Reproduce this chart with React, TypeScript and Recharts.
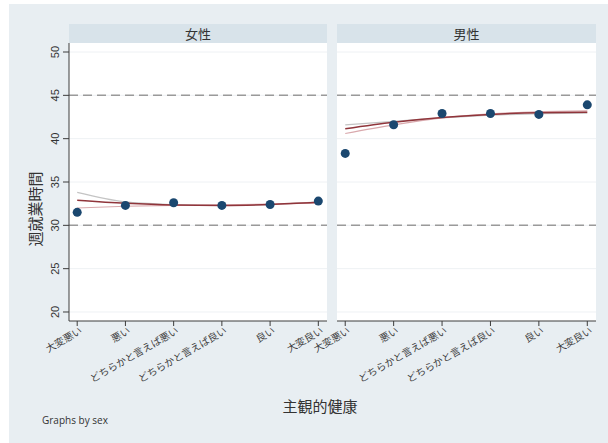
import React from "react";
import {
  CartesianGrid,
  ComposedChart,
  Line,
  ReferenceLine,
  Scatter,
  XAxis,
  YAxis,
} from "recharts";

const categories = [
  "大変悪い",
  "悪い",
  "どちらかと言えば悪い",
  "どちらかと言えば良い",
  "良い",
  "大変良い",
];

// 女性
const femaleMean = [31.5, 32.3, 32.6, 32.3, 32.4, 32.8];
const femaleFit = [32.9, 32.55, 32.35, 32.3, 32.4, 32.65];
const femaleUpper = [33.8, 32.7, 32.4, 32.3, 32.4, 32.7];
const femaleLower = [32.0, 32.2, 32.3, 32.35, 32.45, 32.6];

// 男性
const maleMean = [38.3, 41.6, 42.9, 42.9, 42.8, 43.9];
const maleFit = [41.15, 41.9, 42.45, 42.8, 43.0, 43.05];
const maleUpper = [41.6, 42.0, 42.4, 42.7, 42.9, 42.95];
const maleLower = [40.6, 41.6, 42.4, 42.85, 43.1, 43.2];

const yTicks = [20, 25, 30, 35, 40, 45, 50];
const refLines = [30, 45];

const BG = "#e8eef2";
const STRIP = "#d8e3ea";
const NAVY = "#1a476f";
const MAROON = "#90353b";
const PINK = "#d9a9ad";
const LIGHTGRAY = "#c4c4c4";
const AXIS = "#3c3c3c";
const JP = "'Noto Sans CJK JP', 'Noto Sans', sans-serif";

const buildRows = (mean: number[], fit: number[], upper: number[], lower: number[]) =>
  categories.map((c, i) => ({
    x: i,
    name: c,
    mean: mean[i],
    fit: fit[i],
    upper: upper[i],
    lower: lower[i],
  }));

const femaleRows = buildRows(femaleMean, femaleFit, femaleUpper, femaleLower);
const maleRows = buildRows(maleMean, maleFit, maleUpper, maleLower);

function XTick(props: any) {
  const { x, y, payload } = props;
  return (
    <text
      transform={`translate(${x + 3},${y}) rotate(-30)`}
      textAnchor="end"
      dy="0.55em"
      fontSize={10}
      fill="#404040"
      fontFamily={JP}
    >
      {categories[payload.value]}
    </text>
  );
}

function YTick(props: any) {
  const { x, y, payload } = props;
  return (
    <text
      transform={`translate(${x - 6},${y}) rotate(-90)`}
      textAnchor="middle"
      dominantBaseline="central"
      fontSize={11}
      fill="#333"
      fontFamily="'Liberation Sans', Arial, sans-serif"
    >
      {payload.value}
    </text>
  );
}

function Panel({
  rows,
  showY,
  width,
  left,
}: {
  rows: any[];
  showY: boolean;
  width: number;
  left: number;
}) {
  return (
    <ComposedChart
      width={width}
      height={439}
      data={rows}
      margin={{ top: 39, right: 3, left: left, bottom: 62 }}
    >
      <CartesianGrid
        fill="#ffffff"
        vertical={false}
        stroke="#eef1f4"
        horizontalValues={yTicks}
      />
      <XAxis
        dataKey="x"
        type="number"
        domain={[-0.17, 5.18]}
        ticks={[0, 1, 2, 3, 4, 5]}
        interval={0}
        tick={<XTick />}
        tickSize={5}
        height={60}
        stroke={AXIS}
        allowDataOverflow
      />
      <YAxis
        type="number"
        domain={[18.96, 51.04]}
        ticks={yTicks}
        hide={!showY}
        width={40}
        tick={<YTick />}
        tickSize={6}
        stroke={AXIS}
        allowDataOverflow
      />
      {refLines.map((v) => (
        <ReferenceLine
          key={v}
          y={v}
          stroke="#9a9a9a"
          strokeWidth={1.5}
          strokeDasharray="9 5"
        />
      ))}
      <Scatter
        data={rows}
        dataKey="mean"
        fill={NAVY}
        shape={(p: any) => <circle cx={p.cx} cy={p.cy} r={4.5} fill={NAVY} />}
        isAnimationActive={false}
      />
      <Line
        dataKey="upper"
        type="monotone"
        stroke={LIGHTGRAY}
        strokeWidth={1.2}
        dot={false}
        isAnimationActive={false}
      />
      <Line
        dataKey="lower"
        type="monotone"
        stroke={PINK}
        strokeWidth={1.2}
        dot={false}
        isAnimationActive={false}
      />
      <Line
        dataKey="fit"
        type="monotone"
        stroke={MAROON}
        strokeWidth={1.5}
        dot={false}
        isAnimationActive={false}
      />
    </ComposedChart>
  );
}

const stripStyle: React.CSSProperties = {
  position: "absolute",
  top: 20,
  height: 19,
  background: STRIP,
  color: "#333",
  fontSize: 13,
  lineHeight: "19px",
  textAlign: "center",
  fontFamily: JP,
};

export default function App() {
  return (
    <div
      style={{
        position: "absolute",
        left: 9,
        top: 4,
        width: 599,
        height: 439,
        background: BG,
        overflow: "hidden",
      }}
    >
      <div style={{ position: "absolute", left: 0, top: 0 }}>
        <Panel rows={femaleRows} showY={true} width={321} left={20} />
      </div>
      <div style={{ position: "absolute", left: 240, top: 0 }}>
        <Panel rows={maleRows} showY={false} width={350} left={88} />
      </div>
      <div style={{ ...stripStyle, left: 60, width: 258 }}>女性</div>
      <div style={{ ...stripStyle, left: 328, width: 259 }}>男性</div>
      <div
        style={{
          position: "absolute",
          left: 25,
          top: 205,
          transform: "translate(-50%, -50%) rotate(-90deg)",
          whiteSpace: "nowrap",
          fontSize: 15,
          color: "#333",
          fontFamily: JP,
        }}
      >
        週就業時間
      </div>
      <div
        style={{
          position: "absolute",
          left: 311,
          top: 401,
          transform: "translate(-50%, -50%)",
          whiteSpace: "nowrap",
          fontSize: 15,
          color: "#333",
          fontFamily: JP,
        }}
      >
        主観的健康
      </div>
      <div
        style={{
          position: "absolute",
          left: 33,
          top: 416,
          transform: "translateY(-50%)",
          whiteSpace: "nowrap",
          fontSize: 10,
          color: "#333",
          fontFamily: "'Open Sans', sans-serif",
        }}
      >
        Graphs by sex
      </div>
    </div>
  );
}
